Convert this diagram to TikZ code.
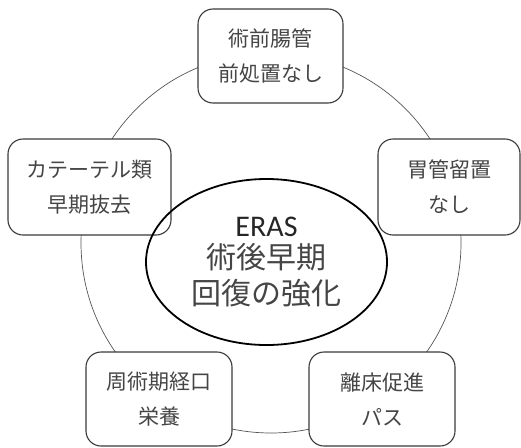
\documentclass[tikz,border=0pt]{standalone}
\usepackage{fontspec}
\newfontfamily\jp{Noto Sans CJK JP}
\newfontfamily\lat{Carlito}
\usetikzlibrary{shapes.geometric}
\definecolor{boxline}{HTML}{3A3A3A}
\definecolor{txt}{HTML}{454545}
\definecolor{ring}{HTML}{555555}
\tikzset{
  itembox/.style={draw=boxline, line width=1.1pt, fill=white, rounded corners=15pt,
    rectangle, inner sep=0pt, align=center, text=txt,
    font=\jp\fontsize{21}{35}\selectfont},
  centre/.style={draw=black, line width=1.8pt, ellipse, inner sep=0pt,
    minimum width=241pt, minimum height=166pt, align=center, text=txt,
    font=\jp\fontsize{30}{36}\selectfont}
}
\begin{document}
\begin{tikzpicture}[x=1pt,y=-1pt]
\useasboundingbox (0,0) rectangle (521,447);
\coordinate (c) at (271,243);
\draw[ring, line width=0.7pt] (c) circle (190pt);
\node[itembox, minimum width=145pt, minimum height=94pt] (top) at (270.5,56) {術前腸管\\前処置なし};
\node[itembox, minimum width=163pt, minimum height=96pt] (left) at (89.5,187) {カテーテル類\\早期抜去};
\node[itembox, minimum width=142pt, minimum height=96pt] (right) at (449,187) {胃管留置\\なし};
\node[itembox, minimum width=146pt, minimum height=94pt] (bl) at (159,399) {周術期経口\\栄養};
\node[itembox, minimum width=146pt, minimum height=94pt] (br) at (382,399) {離床促進\\パス};
\node[centre] (eras) at (266.5,262) {{\lat\color{black!85}ERAS}\\[-4pt]術後早期\\回復の強化};
\end{tikzpicture}
\end{document}
